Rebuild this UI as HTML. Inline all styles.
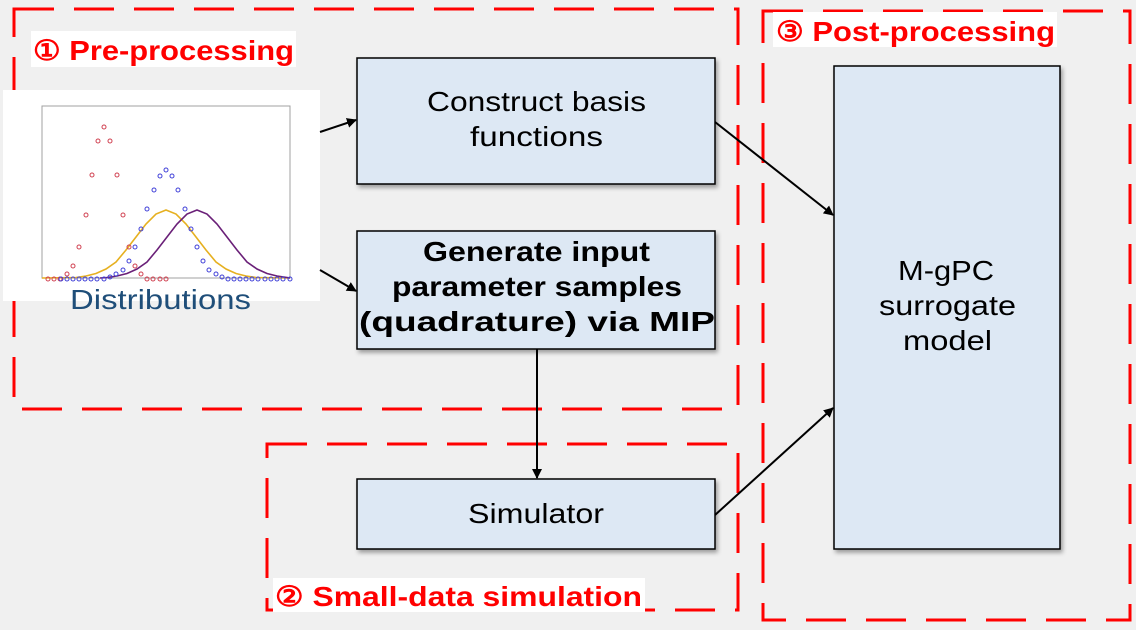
<!DOCTYPE html>
<html><head><meta charset="utf-8"><style>
html,body{margin:0;padding:0;background:#f0f0f0;}
svg{display:block;}
text{font-family:"Liberation Sans",sans-serif;}
</style></head><body>
<svg width="1136" height="630" viewBox="0 0 1136 630" xmlns="http://www.w3.org/2000/svg">
<defs>
<marker id="ah" markerWidth="10" markerHeight="10" refX="9" refY="5" orient="auto" markerUnits="userSpaceOnUse"><path d="M0,0 L10,5 L0,10 z" fill="#000"/></marker>
<filter id="sh" x="-5%" y="-5%" width="110%" height="115%"><feDropShadow dx="2" dy="3" stdDeviation="2" flood-color="#000" flood-opacity="0.35"/></filter>
</defs>
<rect width="1136" height="630" fill="#f0f0f0"/>
<g fill="none" stroke="#ff0000" stroke-width="3" stroke-dasharray="40,20">
<rect x="14" y="9" width="724" height="400"/>
<rect x="267" y="444" width="471" height="166"/>
<rect x="763" y="11" width="367" height="609"/>
</g>
<rect x="31" y="31" width="265" height="36" fill="#fff"/>
<text x="33" y="60" font-size="28" font-weight="bold" fill="#ff0000" textLength="261" lengthAdjust="spacingAndGlyphs">① Pre-processing</text>
<rect x="273" y="578" width="372" height="34" fill="#fff"/>
<text x="275" y="606" font-size="28" font-weight="bold" fill="#ff0000" textLength="367" lengthAdjust="spacingAndGlyphs">② Small-data simulation</text>
<rect x="773" y="12" width="284" height="35" fill="#fff"/>
<text x="776" y="41" font-size="28" font-weight="bold" fill="#ff0000" textLength="279" lengthAdjust="spacingAndGlyphs">③ Post-processing</text>
<rect x="3" y="90" width="317" height="211" fill="#fff"/>
<rect x="42" y="106" width="248" height="172" fill="#fff" stroke="#a0a0a0" stroke-width="1"/>
<polyline fill="none" stroke="#e6b020" stroke-width="1.6" points="42,278 76,277.5 86,276 96,273.5 106,269 116,262 126,250 136,237 146,224 156,214 166,210 176,214 186,224 196,237 206,250 216,262 226,269 236,273.5 246,276 256,277.5 290,278"/>
<polyline fill="none" stroke="#6a2078" stroke-width="1.6" points="100,278 107,277.5 117,276 127,273.5 137,269 147,262 157,250 167,237 177,224 187,214 197,210 207,214 217,224 227,237 237,250 247,262 257,269 267,273.5 277,276 287,277.5 290,278"/>
<g fill="none" stroke="#d04050" stroke-width="1">
<circle cx="104" cy="127" r="2"/><circle cx="98" cy="141" r="2"/><circle cx="110" cy="141" r="2"/>
<circle cx="92" cy="175" r="2"/><circle cx="117" cy="175" r="2"/><circle cx="86" cy="215" r="2"/><circle cx="123" cy="215" r="2"/>
<circle cx="79" cy="247" r="2"/><circle cx="129" cy="247" r="2"/><circle cx="73" cy="266" r="2"/><circle cx="135" cy="266" r="2"/>
<circle cx="67" cy="274" r="2"/><circle cx="141" cy="274" r="2"/>
<circle cx="48" cy="279" r="2"/><circle cx="54" cy="279" r="2"/><circle cx="60" cy="279" r="2"/>
<circle cx="147" cy="279" r="2"/><circle cx="153" cy="279" r="2"/><circle cx="160" cy="279" r="2"/><circle cx="166" cy="279" r="2"/>
</g>
<g fill="none" stroke="#4040d8" stroke-width="1">
<circle cx="166" cy="170" r="2"/><circle cx="160" cy="176" r="2"/><circle cx="172" cy="176" r="2"/>
<circle cx="154" cy="190" r="2"/><circle cx="178" cy="190" r="2"/><circle cx="147" cy="209" r="2"/><circle cx="185" cy="209" r="2"/>
<circle cx="141" cy="229" r="2"/><circle cx="191" cy="229" r="2"/><circle cx="135" cy="247" r="2"/><circle cx="197" cy="247" r="2"/>
<circle cx="129" cy="261" r="2"/><circle cx="203" cy="261" r="2"/><circle cx="123" cy="270" r="2"/><circle cx="209" cy="270" r="2"/>
<circle cx="116" cy="274" r="2"/><circle cx="216" cy="274" r="2"/><circle cx="110" cy="277" r="2"/><circle cx="222" cy="277" r="2"/>
<circle cx="61" cy="279" r="2"/><circle cx="67" cy="279" r="2"/><circle cx="73" cy="279" r="2"/><circle cx="79" cy="279" r="2"/><circle cx="85" cy="279" r="2"/><circle cx="91" cy="279" r="2"/><circle cx="97" cy="279" r="2"/><circle cx="104" cy="279" r="2"/>
<circle cx="228" cy="279" r="2"/><circle cx="234" cy="279" r="2"/><circle cx="240" cy="279" r="2"/><circle cx="246" cy="279" r="2"/><circle cx="252" cy="279" r="2"/><circle cx="258" cy="279" r="2"/><circle cx="265" cy="279" r="2"/><circle cx="271" cy="279" r="2"/><circle cx="277" cy="279" r="2"/><circle cx="283" cy="279" r="2"/><circle cx="290" cy="279" r="2"/>
</g>
<text x="70" y="309" font-size="28" fill="#1f4e79" textLength="181" lengthAdjust="spacingAndGlyphs">Distributions</text>
<g fill="#dde8f4" stroke="#000" stroke-width="1.5" filter="url(#sh)">
<rect x="357" y="58" width="358" height="126"/>
<rect x="357" y="231" width="358" height="118"/>
<rect x="357" y="479" width="358" height="70"/>
<rect x="834" y="66" width="226" height="483"/>
</g>
<g font-size="28" fill="#000" lengthAdjust="spacingAndGlyphs">
<text x="427" y="111" textLength="219" lengthAdjust="spacingAndGlyphs">Construct basis</text>
<text x="470" y="146" textLength="133" lengthAdjust="spacingAndGlyphs">functions</text>
<text x="423" y="261" font-weight="bold" textLength="227" lengthAdjust="spacingAndGlyphs">Generate input</text>
<text x="392" y="296" font-weight="bold" textLength="290" lengthAdjust="spacingAndGlyphs">parameter samples</text>
<text x="359" y="331" font-weight="bold" textLength="356" lengthAdjust="spacingAndGlyphs">(quadrature) via MIP</text>
<text x="468" y="523" textLength="136" lengthAdjust="spacingAndGlyphs">Simulator</text>
<text x="898" y="280" textLength="96" lengthAdjust="spacingAndGlyphs">M-gPC</text>
<text x="879" y="315" textLength="137" lengthAdjust="spacingAndGlyphs">surrogate</text>
<text x="903" y="350" textLength="89" lengthAdjust="spacingAndGlyphs">model</text>
</g>
<g stroke="#000" stroke-width="2" fill="none" marker-end="url(#ah)">
<line x1="320" y1="132" x2="356" y2="120"/>
<line x1="320" y1="270" x2="356" y2="291"/>
<line x1="715" y1="122" x2="833" y2="215"/>
<line x1="537" y1="349" x2="537" y2="478"/>
<line x1="715" y1="515" x2="833" y2="408"/>
</g>
</svg>
</body></html>
